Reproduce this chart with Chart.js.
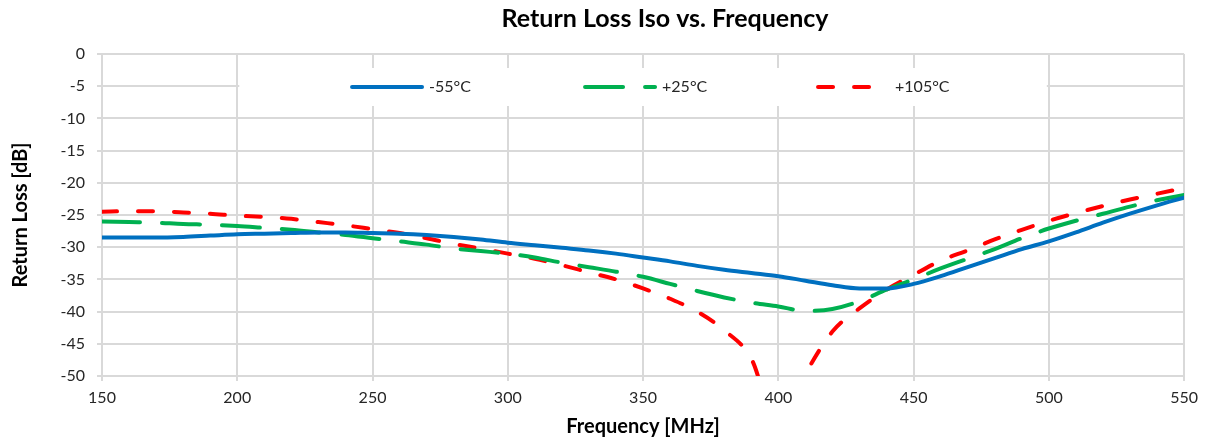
<!DOCTYPE html>
<html>
<head>
<meta charset="utf-8">
<script src="https://cdn.jsdelivr.net/npm/chart.js@4/dist/chart.umd.min.js"></script>
<style>
  html, body { margin: 0; padding: 0; background: #fff; }
  #wrap { width: 1205px; height: 441px; }
</style>
</head>
<body>
<div id="wrap"><canvas id="rlChart"></canvas></div>
<script>
// Frequency points [MHz]
const freqs = [150, 160, 170, 180, 190, 200, 210, 220, 230, 240,
               250, 260, 270, 280, 290, 300, 310, 320, 330, 340,
               350, 360, 370, 380, 390, 400, 410, 420, 430, 440,
               450, 460, 470, 480, 490, 500, 510, 520, 530, 540, 550];

// Return loss [dB] per temperature
const rlCold = [-28.5, -28.5, -28.5, -28.4, -28.2, -28.0, -27.9, -27.8, -27.7, -27.7,
                -27.8, -27.9, -28.1, -28.4, -28.8, -29.3, -29.7, -30.1, -30.5, -31.0,
                -31.6, -32.2, -32.9, -33.5, -34.0, -34.5, -35.2, -35.9, -36.4, -36.4,
                -35.7, -34.5, -33.1, -31.7, -30.3, -29.1, -27.7, -26.2, -24.8, -23.5, -22.3];
const rlRoom = [-26.0, -26.1, -26.2, -26.4, -26.5, -26.7, -27.0, -27.3, -27.7, -28.1,
                -28.6, -29.1, -29.6, -30.2, -30.6, -31.0, -31.6, -32.4, -33.1, -33.8,
                -34.6, -35.7, -36.8, -37.8, -38.6, -39.2, -39.9, -39.6, -38.4, -36.6,
                -35.0, -33.3, -31.8, -30.3, -28.6, -27.1, -25.9, -24.8, -23.7, -22.7, -21.9];
const rlHot  = [-24.5, -24.4, -24.4, -24.6, -24.8, -25.1, -25.3, -25.6, -26.1, -26.6,
                -27.2, -27.8, -28.6, -29.5, -30.2, -31.0, -31.8, -32.8, -33.9, -35.0,
                -36.4, -38.0, -40.0, -42.9, -47.3, -58.0, -49.7, -43.1, -39.5, -36.6,
                -34.3, -32.1, -30.5, -28.8, -27.3, -25.9, -24.7, -23.6, -22.6, -21.7, -20.8];

const seriesLabels = ['-55°C', '+25°C', '+105°C'];
const chartTitle = 'Return Loss Iso vs. Frequency';

const FONT = 'Lato, "Open Sans", sans-serif';
const TXT = '#262626';
const GRID = '#d9d9d9';

const toPts = arr => freqs.map((f, i) => ({ x: f, y: arr[i] }));

// title sits a bit right of centre in the original, so draw it by hand
const offTitle = {
    id: 'offTitle',
    afterDraw(chart) {
        const { ctx } = chart;
        ctx.save();
        ctx.font = 'bold 25px ' + FONT;
        ctx.fillStyle = '#000';
        ctx.textAlign = 'center';
        ctx.textBaseline = 'middle';
        ctx.fillText(chartTitle, 665, 19);
        ctx.restore();
    }
};

// legend drawn inside the plot on a white box, like the Excel original
const innerLegend = {
    id: 'innerLegend',
    afterDatasetsDraw(chart) {
        const { ctx, chartArea, scales } = chart;
        const x0 = scales.x.getPixelForValue(200) + 2;
        const x1 = scales.x.getPixelForValue(500) - 2;
        const top = chartArea.top + 14;
        const h = 38;
        ctx.save();
        ctx.fillStyle = '#fff';
        ctx.fillRect(x0, top, x1 - x0, h);

        const cy = top + h / 2;
        const cx = (chartArea.left + chartArea.right) / 2;
        ctx.font = '16px ' + FONT;
        ctx.textBaseline = 'middle';
        chart.data.datasets.forEach((ds, i) => {
            const sx = cx - 291 + i * 233;
            ctx.beginPath();
            ctx.strokeStyle = ds.borderColor;
            ctx.lineWidth = ds.borderWidth;
            ctx.lineCap = 'round';
            ctx.setLineDash(ds.borderDash || []);
            ctx.moveTo(sx, cy);
            ctx.lineTo(sx + 70, cy);
            ctx.stroke();
            ctx.setLineDash([]);
            ctx.fillStyle = TXT;
            ctx.fillText(ds.label, sx + 77, cy);
        });
        ctx.restore();
    }
};

const rlChart = new Chart(document.getElementById('rlChart'), {
    type: 'line',
    data: {
        datasets: [
            {
                label: seriesLabels[0],
                data: toPts(rlCold),
                borderColor: '#0070C0',
                borderWidth: 4,
            },
            {
                label: seriesLabels[1],
                data: toPts(rlRoom),
                borderColor: '#00B050',
                borderWidth: 4,
                borderDash: [38, 22],
            },
            {
                label: seriesLabels[2],
                data: toPts(rlHot),
                borderColor: '#FF0000',
                borderWidth: 4,
                borderDash: [15, 21],
            },
        ],
    },
    options: {
        responsive: true,
        maintainAspectRatio: false,
        animation: false,
        layout: { padding: { left: 0, right: 18, top: 54, bottom: 0 } },
        elements: {
            point: { radius: 0 },
            line: { cubicInterpolationMode: 'monotone', borderCapStyle: 'round', fill: false },
        },
        plugins: {
            legend: { display: false },
            tooltip: { enabled: false },
            title: { display: false },
        },
        scales: {
            x: {
                type: 'linear',
                min: 150,
                max: 550,
                afterFit: s => { s.height = 65; },
                ticks: {
                    stepSize: 50,
                    color: TXT,
                    padding: 7,
                    maxRotation: 0,
                    font: { family: FONT, size: 16 },
                },
                grid: { color: GRID, lineWidth: 2, tickLength: 5 },
                border: { color: GRID, width: 2 },
                title: {
                    display: true,
                    text: 'Frequency [MHz]',
                    color: '#000',
                    font: { family: FONT, size: 20, weight: 'bold', lineHeight: 1.2 },
                    padding: { top: 0, bottom: 2 },
                },
            },
            y: {
                min: -50,
                max: 0,
                afterFit: s => { s.width = 102; },
                ticks: {
                    stepSize: 5,
                    color: TXT,
                    padding: 12,
                    font: { family: FONT, size: 16 },
                },
                grid: { color: GRID, lineWidth: 2, tickLength: 5 },
                border: { color: GRID, width: 2 },
                title: {
                    display: true,
                    text: 'Return Loss [dB]',
                    color: '#000',
                    font: { family: FONT, size: 20, weight: 'bold', lineHeight: 1.2 },
                    padding: { top: 9, bottom: 0 },
                },
            },
        },
    },
    plugins: [innerLegend, offTitle],
});
</script>
</body>
</html>
